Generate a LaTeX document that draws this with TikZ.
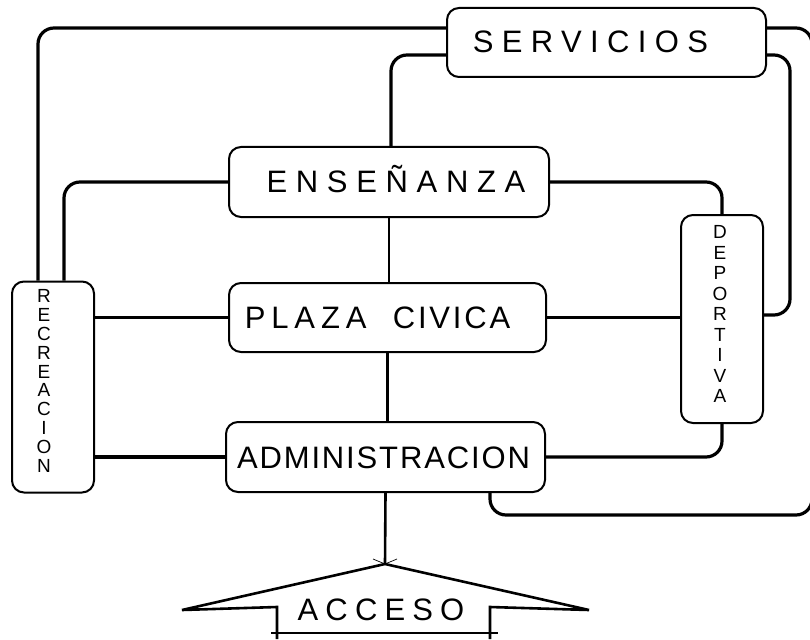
\documentclass[tikz,border=0pt]{standalone}
\usepackage{fontspec}
\setmainfont{Liberation Sans}
\newcommand{\spaced}[2]{{\addfontfeature{LetterSpace=#1}#2}}
\begin{document}
\begin{tikzpicture}[x=1pt,y=-1pt,
  zone/.style={draw,line width=2pt,rounded corners=12pt,inner sep=0pt},
  txt/.style={inner sep=0pt,text height=22pt,text depth=0pt,font=\fontsize{31}{36}\selectfont},
  stack/.style={inner sep=0pt,align=center,font=\fontsize{19}{#1}\selectfont},
  link/.style={line width=3.2pt,rounded corners=16pt},
  axis/.style={line width=2.6pt}]
  \useasboundingbox (0,0) rectangle (810,639);
  % zones
  \node[zone,minimum width=319pt,minimum height=69pt] (serv) at (606.5,42.5) {};
  \node[zone,minimum width=320pt,minimum height=70pt] (ens) at (389,182) {};
  \node[zone,minimum width=317pt,minimum height=69pt] (pla) at (387.5,317.5) {};
  \node[zone,minimum width=319pt,minimum height=70pt] (adm) at (385.5,457) {};
  \node[zone,minimum width=82pt,minimum height=211pt] (rec) at (53,387) {};
  \node[zone,minimum width=82pt,minimum height=208pt] (dep) at (722,319) {};
  % zone names
  \node[txt] (servtxt) at ([xshift=-16pt,yshift=1pt]serv) {\spaced{27}{SERVICIOS}};
  \node[txt] (enstxt) at ([xshift=7pt]ens) {\spaced{28}{ENSEÑANZA}};
  \node[txt] (platxt) at ([xshift=-10pt]pla) {\spaced{19}{PLAZA}\hspace{0.85em}\spaced{9}{CIVICA}};
  \node[txt] (admtxt) at ([xshift=-2pt]adm) {\spaced{6}{ADMINISTRACION}};
  \node[stack=18.8] (rectxt) at (44,381) {R\\E\\C\\R\\E\\A\\C\\I\\O\\N};
  \node[stack=20.5] (deptxt) at (720,314) {D\\E\\P\\O\\R\\T\\I\\V\\A};
  % outer ring
  \draw[link] (rec.north -| 38,0) |- (serv.west |- 0,28);
  \draw[link] (serv.east |- 0,28) -| (812,515) -| (adm.south -| 490,0);
  % inner ring
  \draw[link] (ens.north -| 391,0) |- (serv.west |- 0,55);
  \draw[link] (serv.east |- 0,55) -| (790,315) -- (dep.east |- 0,315);
  \draw[link] (ens.west) -| (rec.north -| 64,0);
  \draw[link] (ens.east) -| (dep.north);
  \draw[link] (adm.east) -| (dep.south);
  % cross links
  \draw[link] (rec.east |- pla.west) -- (pla.west);
  \draw[link] (pla.east) -- (dep.west |- pla.east);
  \draw[link] (rec.east |- adm.west) -- (adm.west);
  % central axis
  \coordinate (apex) at (385,564);
  \draw[axis] (ens.south) -- (ens.south |- pla.north);
  \draw[axis] (pla.south) -- (pla.south |- adm.north);
  \draw[axis] (adm.south) -- (apex);
  % entrance
  \draw[line width=2.6pt] (277,639) -- (277,607) -- (182,610) -- (apex) -- (589,610) -- (490,607) -- (490,639);
  \draw[line width=2pt] (271,633) -- (498,633);
  \draw[line width=0.7pt] (373,559) -- (apex) -- (397,559);
  \node[txt] (acc) at (381,609) {\spaced{23}{ACCESO}};
\end{tikzpicture}
\end{document}
